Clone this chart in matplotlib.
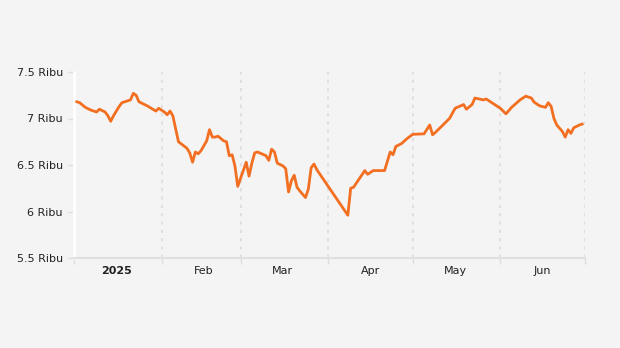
import numpy as np
import matplotlib
matplotlib.use('Agg')
import matplotlib.pyplot as plt
import matplotlib.dates as mdates
import matplotlib.ticker as mticker
from datetime import datetime

# price series (thousand)
dates = ['2025-01-02', '2025-01-03', '2025-01-05', '2025-01-07', '2025-01-08',
         '2025-01-09', '2025-01-10', '2025-01-12', '2025-01-13', '2025-01-14',
         '2025-01-15', '2025-01-17', '2025-01-18', '2025-01-20', '2025-01-21',
         '2025-01-22', '2025-01-23', '2025-01-24', '2025-01-27', '2025-01-30',
         '2025-01-31', '2025-02-02', '2025-02-03', '2025-02-04', '2025-02-05',
         '2025-02-07', '2025-02-10', '2025-02-11', '2025-02-12', '2025-02-13',
         '2025-02-14', '2025-02-15', '2025-02-17', '2025-02-18', '2025-02-19',
         '2025-02-20', '2025-02-21', '2025-02-23', '2025-02-24', '2025-02-25',
         '2025-02-26', '2025-02-27', '2025-02-28', '2025-03-03', '2025-03-04',
         '2025-03-05', '2025-03-06', '2025-03-07', '2025-03-10', '2025-03-11',
         '2025-03-12', '2025-03-13', '2025-03-14', '2025-03-16', '2025-03-17',
         '2025-03-18', '2025-03-19', '2025-03-20', '2025-03-21', '2025-03-22',
         '2025-03-24', '2025-03-25', '2025-03-26', '2025-03-27', '2025-03-28',
         '2025-04-08', '2025-04-09', '2025-04-10', '2025-04-12', '2025-04-14',
         '2025-04-15', '2025-04-17', '2025-04-21', '2025-04-23', '2025-04-24',
         '2025-04-25', '2025-04-27', '2025-04-29', '2025-05-01', '2025-05-05',
         '2025-05-07', '2025-05-08', '2025-05-09', '2025-05-14', '2025-05-16',
         '2025-05-19', '2025-05-20', '2025-05-22', '2025-05-23', '2025-05-26',
         '2025-05-27', '2025-06-01', '2025-06-03', '2025-06-05', '2025-06-08',
         '2025-06-10', '2025-06-12', '2025-06-13', '2025-06-15', '2025-06-17',
         '2025-06-18', '2025-06-19', '2025-06-20', '2025-06-21', '2025-06-23',
         '2025-06-24', '2025-06-25', '2025-06-26', '2025-06-27', '2025-06-29',
         '2025-06-30']
prices = [7.18, 7.17, 7.12, 7.09, 7.08,
          7.07, 7.10, 7.07, 7.03, 6.97,
          7.03, 7.13, 7.17, 7.19, 7.20,
          7.27, 7.25, 7.18, 7.135, 7.08,
          7.11, 7.07, 7.04, 7.08, 7.03,
          6.75, 6.68, 6.63, 6.53, 6.64,
          6.62, 6.655, 6.76, 6.88, 6.80,
          6.80, 6.81, 6.76, 6.75, 6.60,
          6.61, 6.49, 6.27, 6.53, 6.38,
          6.52, 6.63, 6.64, 6.60, 6.55,
          6.67, 6.64, 6.52, 6.49, 6.46,
          6.21, 6.33, 6.39, 6.26, 6.22,
          6.15, 6.24, 6.47, 6.51, 6.45,
          5.96, 6.25, 6.26, 6.35, 6.44,
          6.40, 6.44, 6.44, 6.64, 6.61,
          6.70, 6.73, 6.785, 6.83, 6.835,
          6.93, 6.825, 6.85, 7.00, 7.11,
          7.15, 7.10, 7.15, 7.22, 7.20,
          7.21, 7.11, 7.05, 7.12, 7.20,
          7.24, 7.22, 7.175, 7.135, 7.12,
          7.17, 7.13, 7.00, 6.93, 6.86,
          6.80, 6.88, 6.84, 6.90, 6.93,
          6.94]

y_ticks = [5.5, 6, 6.5, 7, 7.5]
month_labels = ['2025', 'Feb', 'Mar', 'Apr', 'May', 'Jun']

bg = '#f4f4f4'
x = [datetime.strptime(d, '%Y-%m-%d') for d in dates]

fig = plt.figure(figsize=(6.2, 3.48), dpi=100, facecolor=bg)
ax = fig.add_axes([74 / 620, 1 - 258 / 348, (585 - 74) / 620, (258 - 72) / 348])
ax.set_facecolor(bg)

ax.plot(x, prices, color='#f26f21', lw=2.0, solid_joinstyle='round', zorder=3)

ax.set_xlim(datetime(2025, 1, 1), datetime(2025, 7, 1))
ax.set_ylim(5.5, 7.5)

# month boundaries as major ticks / dotted grid, labels on mid-month minor ticks
ax.xaxis.set_major_locator(mdates.MonthLocator())
ax.xaxis.set_major_formatter(mticker.NullFormatter())
ax.xaxis.set_minor_locator(mdates.MonthLocator(bymonthday=16))
ax.xaxis.set_minor_formatter(mticker.FixedFormatter(month_labels))
ax.grid(axis='x', which='major', color='#dddddd', linestyle=(0, (2, 3)), lw=1.2)
ax.tick_params(axis='x', which='major', length=4, color='#dddddd', width=1)
ax.tick_params(axis='x', which='minor', length=0, pad=6, labelsize=8, labelcolor='#222222')
for lbl in ax.xaxis.get_minorticklabels():
    if lbl.get_text() == '2025':
        lbl.set_fontweight('bold')

ax.set_yticks(y_ticks)
ax.yaxis.set_major_formatter(mticker.FuncFormatter(lambda v, p: f'{v:g} Ribu'))
ax.tick_params(axis='y', length=4, color='#dddddd', width=1, pad=4,
               labelsize=8, labelcolor='#222222')

for s in ['top', 'right']:
    ax.spines[s].set_visible(False)
ax.spines['left'].set_color('white')
ax.spines['left'].set_linewidth(2)
ax.spines['bottom'].set_color('#e0e0e0')
ax.spines['bottom'].set_linewidth(1.5)

fig.savefig('out.png', dpi=100, facecolor=bg)
